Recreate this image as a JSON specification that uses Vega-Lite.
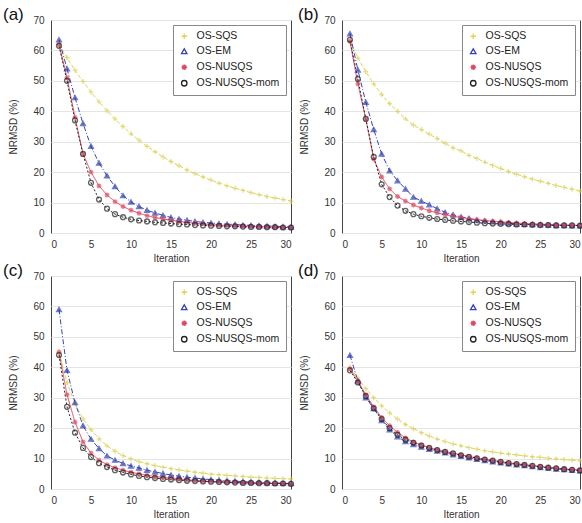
{
  "$schema": "https://vega.github.io/schema/vega-lite/v6.json",
  "background": "white",
  "padding": {"left": 2, "top": 5, "right": 0, "bottom": 0},
  "config": {
    "font": "Liberation Sans",
    "view": {"stroke": "#444", "strokeWidth": 1},
    "axis": {"labelFont": "Liberation Sans", "labelFontSize": 10, "labelColor": "#333", "titleFont": "Liberation Sans", "titleFontSize": 10, "titleFontWeight": "normal", "titleColor": "#333", "ticks": false, "labelPadding": 7, "domain": false, "gridColor": "#e4e4e4", "gridWidth": 1},
    "axisX": {"grid": false, "titlePadding": 4, "labelPadding": 6},
    "axisY": {"grid": true, "titlePadding": 14},
    "legend": {"orient": "top-right", "offset": 5, "title": null, "labelFont": "Liberation Sans", "labelFontSize": 10.5, "labelColor": "#222", "strokeColor": "#888", "fillColor": "white", "padding": 6, "rowPadding": 4, "symbolSize": 30, "symbolStrokeWidth": 1.3, "labelOffset": 7, "symbolFillColor": "transparent"},
    "title": {"font": "Liberation Sans", "fontSize": 17, "fontWeight": "normal", "color": "#111", "anchor": "start", "frame": "group", "orient": "top", "offset": -9},
    "concat": {"spacing": 0}
  },
  "datasets": {
    "a": [
      {"iter":1,"OS-SQS":62,"OS-EM":63.5,"OS-NUSQS":62,"OS-NUSQS-mom":61.5},
      {"iter":2,"OS-SQS":57.6,"OS-EM":54,"OS-NUSQS":51,"OS-NUSQS-mom":50},
      {"iter":3,"OS-SQS":53.5,"OS-EM":44.5,"OS-NUSQS":38,"OS-NUSQS-mom":37},
      {"iter":4,"OS-SQS":49.8,"OS-EM":36,"OS-NUSQS":26,"OS-NUSQS-mom":26},
      {"iter":5,"OS-SQS":46.3,"OS-EM":28.5,"OS-NUSQS":20,"OS-NUSQS-mom":16.5},
      {"iter":6,"OS-SQS":43.1,"OS-EM":23,"OS-NUSQS":15.5,"OS-NUSQS-mom":11},
      {"iter":7,"OS-SQS":40.2,"OS-EM":18.8,"OS-NUSQS":12.5,"OS-NUSQS-mom":8},
      {"iter":8,"OS-SQS":37.5,"OS-EM":15.3,"OS-NUSQS":10.3,"OS-NUSQS-mom":6.2},
      {"iter":9,"OS-SQS":35,"OS-EM":12.3,"OS-NUSQS":8.7,"OS-NUSQS-mom":5.2},
      {"iter":10,"OS-SQS":32.6,"OS-EM":10.2,"OS-NUSQS":7.5,"OS-NUSQS-mom":4.5},
      {"iter":11,"OS-SQS":30.5,"OS-EM":8.7,"OS-NUSQS":6.5,"OS-NUSQS-mom":4.1},
      {"iter":12,"OS-SQS":28.5,"OS-EM":7.5,"OS-NUSQS":5.7,"OS-NUSQS-mom":3.8},
      {"iter":13,"OS-SQS":26.7,"OS-EM":6.6,"OS-NUSQS":5.1,"OS-NUSQS-mom":3.5},
      {"iter":14,"OS-SQS":25,"OS-EM":5.8,"OS-NUSQS":4.6,"OS-NUSQS-mom":3.3},
      {"iter":15,"OS-SQS":23.5,"OS-EM":5.1,"OS-NUSQS":4.2,"OS-NUSQS-mom":3.1},
      {"iter":16,"OS-SQS":22.1,"OS-EM":4.6,"OS-NUSQS":3.8,"OS-NUSQS-mom":2.9},
      {"iter":17,"OS-SQS":20.7,"OS-EM":4.2,"OS-NUSQS":3.5,"OS-NUSQS-mom":2.8},
      {"iter":18,"OS-SQS":19.5,"OS-EM":3.8,"OS-NUSQS":3.2,"OS-NUSQS-mom":2.6},
      {"iter":19,"OS-SQS":18.4,"OS-EM":3.5,"OS-NUSQS":3.0,"OS-NUSQS-mom":2.5},
      {"iter":20,"OS-SQS":17.4,"OS-EM":3.3,"OS-NUSQS":2.8,"OS-NUSQS-mom":2.4},
      {"iter":21,"OS-SQS":16.4,"OS-EM":3.1,"OS-NUSQS":2.6,"OS-NUSQS-mom":2.3},
      {"iter":22,"OS-SQS":15.5,"OS-EM":2.9,"OS-NUSQS":2.5,"OS-NUSQS-mom":2.2},
      {"iter":23,"OS-SQS":14.7,"OS-EM":2.8,"OS-NUSQS":2.4,"OS-NUSQS-mom":2.2},
      {"iter":24,"OS-SQS":14.0,"OS-EM":2.6,"OS-NUSQS":2.3,"OS-NUSQS-mom":2.1},
      {"iter":25,"OS-SQS":13.3,"OS-EM":2.5,"OS-NUSQS":2.2,"OS-NUSQS-mom":2.0},
      {"iter":26,"OS-SQS":12.6,"OS-EM":2.4,"OS-NUSQS":2.1,"OS-NUSQS-mom":2.0},
      {"iter":27,"OS-SQS":12.0,"OS-EM":2.3,"OS-NUSQS":2.0,"OS-NUSQS-mom":1.9},
      {"iter":28,"OS-SQS":11.5,"OS-EM":2.2,"OS-NUSQS":1.9,"OS-NUSQS-mom":1.9},
      {"iter":29,"OS-SQS":11.0,"OS-EM":2.1,"OS-NUSQS":1.8,"OS-NUSQS-mom":1.8},
      {"iter":30,"OS-SQS":10.5,"OS-EM":2.0,"OS-NUSQS":1.8,"OS-NUSQS-mom":1.8}
    ],
    "b": [
      {"iter":1,"OS-SQS":63,"OS-EM":65.5,"OS-NUSQS":63,"OS-NUSQS-mom":63.5},
      {"iter":2,"OS-SQS":57.5,"OS-EM":53.6,"OS-NUSQS":49,"OS-NUSQS-mom":50.6},
      {"iter":3,"OS-SQS":53,"OS-EM":43,"OS-NUSQS":37.5,"OS-NUSQS-mom":37.5},
      {"iter":4,"OS-SQS":49,"OS-EM":34,"OS-NUSQS":24.3,"OS-NUSQS-mom":25},
      {"iter":5,"OS-SQS":45.5,"OS-EM":26,"OS-NUSQS":18.4,"OS-NUSQS-mom":16},
      {"iter":6,"OS-SQS":42.5,"OS-EM":20.5,"OS-NUSQS":14.5,"OS-NUSQS-mom":11.8},
      {"iter":7,"OS-SQS":40,"OS-EM":17.2,"OS-NUSQS":12,"OS-NUSQS-mom":9},
      {"iter":8,"OS-SQS":37.5,"OS-EM":14.5,"OS-NUSQS":10.5,"OS-NUSQS-mom":7.3},
      {"iter":9,"OS-SQS":35.5,"OS-EM":11.8,"OS-NUSQS":9.2,"OS-NUSQS-mom":6.2},
      {"iter":10,"OS-SQS":34,"OS-EM":10.5,"OS-NUSQS":8.2,"OS-NUSQS-mom":5.5},
      {"iter":11,"OS-SQS":32.5,"OS-EM":9.3,"OS-NUSQS":7.3,"OS-NUSQS-mom":5},
      {"iter":12,"OS-SQS":31,"OS-EM":8,"OS-NUSQS":6.6,"OS-NUSQS-mom":4.6},
      {"iter":13,"OS-SQS":29.5,"OS-EM":6.8,"OS-NUSQS":6,"OS-NUSQS-mom":4.3},
      {"iter":14,"OS-SQS":28,"OS-EM":6,"OS-NUSQS":5.5,"OS-NUSQS-mom":4},
      {"iter":15,"OS-SQS":27,"OS-EM":5.3,"OS-NUSQS":5.1,"OS-NUSQS-mom":3.8},
      {"iter":16,"OS-SQS":25.5,"OS-EM":4.8,"OS-NUSQS":4.7,"OS-NUSQS-mom":3.6},
      {"iter":17,"OS-SQS":24.5,"OS-EM":4.3,"OS-NUSQS":4.4,"OS-NUSQS-mom":3.4},
      {"iter":18,"OS-SQS":23.3,"OS-EM":4,"OS-NUSQS":4.1,"OS-NUSQS-mom":3.2},
      {"iter":19,"OS-SQS":22.2,"OS-EM":3.7,"OS-NUSQS":3.9,"OS-NUSQS-mom":3.1},
      {"iter":20,"OS-SQS":21.2,"OS-EM":3.4,"OS-NUSQS":3.7,"OS-NUSQS-mom":3},
      {"iter":21,"OS-SQS":20.2,"OS-EM":3.2,"OS-NUSQS":3.5,"OS-NUSQS-mom":2.9},
      {"iter":22,"OS-SQS":19.3,"OS-EM":3,"OS-NUSQS":3.3,"OS-NUSQS-mom":2.8},
      {"iter":23,"OS-SQS":18.5,"OS-EM":2.9,"OS-NUSQS":3.1,"OS-NUSQS-mom":2.8},
      {"iter":24,"OS-SQS":17.7,"OS-EM":2.8,"OS-NUSQS":3,"OS-NUSQS-mom":2.7},
      {"iter":25,"OS-SQS":17,"OS-EM":2.7,"OS-NUSQS":2.9,"OS-NUSQS-mom":2.6},
      {"iter":26,"OS-SQS":16.3,"OS-EM":2.6,"OS-NUSQS":2.8,"OS-NUSQS-mom":2.6},
      {"iter":27,"OS-SQS":15.6,"OS-EM":2.5,"OS-NUSQS":2.7,"OS-NUSQS-mom":2.5},
      {"iter":28,"OS-SQS":15,"OS-EM":2.5,"OS-NUSQS":2.6,"OS-NUSQS-mom":2.5},
      {"iter":29,"OS-SQS":14.4,"OS-EM":2.4,"OS-NUSQS":2.6,"OS-NUSQS-mom":2.5},
      {"iter":30,"OS-SQS":13.8,"OS-EM":2.4,"OS-NUSQS":2.5,"OS-NUSQS-mom":2.4}
    ],
    "c": [
      {"iter":1,"OS-SQS":45,"OS-EM":59,"OS-NUSQS":45,"OS-NUSQS-mom":44},
      {"iter":2,"OS-SQS":35,"OS-EM":39,"OS-NUSQS":31,"OS-NUSQS-mom":27},
      {"iter":3,"OS-SQS":28,"OS-EM":28.4,"OS-NUSQS":22,"OS-NUSQS-mom":18.5},
      {"iter":4,"OS-SQS":23,"OS-EM":20.8,"OS-NUSQS":15.5,"OS-NUSQS-mom":13.5},
      {"iter":5,"OS-SQS":19.5,"OS-EM":16.4,"OS-NUSQS":11.8,"OS-NUSQS-mom":10.5},
      {"iter":6,"OS-SQS":16.5,"OS-EM":13.3,"OS-NUSQS":9.5,"OS-NUSQS-mom":8.5},
      {"iter":7,"OS-SQS":14.2,"OS-EM":10.9,"OS-NUSQS":8,"OS-NUSQS-mom":7.2},
      {"iter":8,"OS-SQS":12.4,"OS-EM":9.5,"OS-NUSQS":7,"OS-NUSQS-mom":6.2},
      {"iter":9,"OS-SQS":11,"OS-EM":8.4,"OS-NUSQS":6.2,"OS-NUSQS-mom":5.4},
      {"iter":10,"OS-SQS":9.9,"OS-EM":7.6,"OS-NUSQS":5.5,"OS-NUSQS-mom":4.8},
      {"iter":11,"OS-SQS":9,"OS-EM":6.9,"OS-NUSQS":5,"OS-NUSQS-mom":4.3},
      {"iter":12,"OS-SQS":8.3,"OS-EM":6.2,"OS-NUSQS":4.5,"OS-NUSQS-mom":3.9},
      {"iter":13,"OS-SQS":7.7,"OS-EM":5.6,"OS-NUSQS":4.1,"OS-NUSQS-mom":3.6},
      {"iter":14,"OS-SQS":7.2,"OS-EM":5.1,"OS-NUSQS":3.8,"OS-NUSQS-mom":3.3},
      {"iter":15,"OS-SQS":6.7,"OS-EM":4.6,"OS-NUSQS":3.5,"OS-NUSQS-mom":3.1},
      {"iter":16,"OS-SQS":6.3,"OS-EM":4.2,"OS-NUSQS":3.2,"OS-NUSQS-mom":2.9},
      {"iter":17,"OS-SQS":5.9,"OS-EM":3.9,"OS-NUSQS":3.0,"OS-NUSQS-mom":2.7},
      {"iter":18,"OS-SQS":5.5,"OS-EM":3.6,"OS-NUSQS":2.8,"OS-NUSQS-mom":2.6},
      {"iter":19,"OS-SQS":5.2,"OS-EM":3.3,"OS-NUSQS":2.6,"OS-NUSQS-mom":2.5},
      {"iter":20,"OS-SQS":4.9,"OS-EM":3.1,"OS-NUSQS":2.5,"OS-NUSQS-mom":2.4},
      {"iter":21,"OS-SQS":4.7,"OS-EM":2.9,"OS-NUSQS":2.4,"OS-NUSQS-mom":2.3},
      {"iter":22,"OS-SQS":4.5,"OS-EM":2.7,"OS-NUSQS":2.3,"OS-NUSQS-mom":2.2},
      {"iter":23,"OS-SQS":4.3,"OS-EM":2.6,"OS-NUSQS":2.2,"OS-NUSQS-mom":2.1},
      {"iter":24,"OS-SQS":4.1,"OS-EM":2.4,"OS-NUSQS":2.1,"OS-NUSQS-mom":2.0},
      {"iter":25,"OS-SQS":3.9,"OS-EM":2.3,"OS-NUSQS":2.0,"OS-NUSQS-mom":2.0},
      {"iter":26,"OS-SQS":3.8,"OS-EM":2.2,"OS-NUSQS":1.9,"OS-NUSQS-mom":1.9},
      {"iter":27,"OS-SQS":3.6,"OS-EM":2.1,"OS-NUSQS":1.9,"OS-NUSQS-mom":1.9},
      {"iter":28,"OS-SQS":3.5,"OS-EM":2.0,"OS-NUSQS":1.8,"OS-NUSQS-mom":1.8},
      {"iter":29,"OS-SQS":3.4,"OS-EM":1.9,"OS-NUSQS":1.8,"OS-NUSQS-mom":1.8},
      {"iter":30,"OS-SQS":3.3,"OS-EM":1.8,"OS-NUSQS":1.7,"OS-NUSQS-mom":1.7}
    ],
    "d": [
      {"iter":1,"OS-SQS":40,"OS-EM":44,"OS-NUSQS":39.5,"OS-NUSQS-mom":39},
      {"iter":2,"OS-SQS":36.5,"OS-EM":35.5,"OS-NUSQS":35.5,"OS-NUSQS-mom":35},
      {"iter":3,"OS-SQS":33,"OS-EM":30,"OS-NUSQS":31,"OS-NUSQS-mom":30.5},
      {"iter":4,"OS-SQS":30,"OS-EM":26.5,"OS-NUSQS":27,"OS-NUSQS-mom":26.5},
      {"iter":5,"OS-SQS":27.3,"OS-EM":22.5,"OS-NUSQS":23.5,"OS-NUSQS-mom":23},
      {"iter":6,"OS-SQS":25,"OS-EM":19.5,"OS-NUSQS":20.8,"OS-NUSQS-mom":20},
      {"iter":7,"OS-SQS":23,"OS-EM":17.2,"OS-NUSQS":18.6,"OS-NUSQS-mom":17.8},
      {"iter":8,"OS-SQS":21.2,"OS-EM":15.6,"OS-NUSQS":16.8,"OS-NUSQS-mom":16.2},
      {"iter":9,"OS-SQS":19.8,"OS-EM":14.6,"OS-NUSQS":15.5,"OS-NUSQS-mom":15.2},
      {"iter":10,"OS-SQS":18.5,"OS-EM":13.8,"OS-NUSQS":14.5,"OS-NUSQS-mom":14.3},
      {"iter":11,"OS-SQS":17.4,"OS-EM":13.1,"OS-NUSQS":13.6,"OS-NUSQS-mom":13.5},
      {"iter":12,"OS-SQS":16.4,"OS-EM":12.5,"OS-NUSQS":12.9,"OS-NUSQS-mom":12.8},
      {"iter":13,"OS-SQS":15.6,"OS-EM":11.9,"OS-NUSQS":12.3,"OS-NUSQS-mom":12.2},
      {"iter":14,"OS-SQS":14.8,"OS-EM":11.3,"OS-NUSQS":11.8,"OS-NUSQS-mom":11.7},
      {"iter":15,"OS-SQS":14.2,"OS-EM":10.8,"OS-NUSQS":11.2,"OS-NUSQS-mom":11.1},
      {"iter":16,"OS-SQS":13.6,"OS-EM":10.3,"OS-NUSQS":10.7,"OS-NUSQS-mom":10.6},
      {"iter":17,"OS-SQS":13.1,"OS-EM":9.8,"OS-NUSQS":10.2,"OS-NUSQS-mom":10.1},
      {"iter":18,"OS-SQS":12.6,"OS-EM":9.4,"OS-NUSQS":9.8,"OS-NUSQS-mom":9.7},
      {"iter":19,"OS-SQS":12.2,"OS-EM":9.0,"OS-NUSQS":9.4,"OS-NUSQS-mom":9.3},
      {"iter":20,"OS-SQS":11.8,"OS-EM":8.6,"OS-NUSQS":9.0,"OS-NUSQS-mom":8.9},
      {"iter":21,"OS-SQS":11.5,"OS-EM":8.3,"OS-NUSQS":8.6,"OS-NUSQS-mom":8.5},
      {"iter":22,"OS-SQS":11.2,"OS-EM":8.0,"OS-NUSQS":8.3,"OS-NUSQS-mom":8.2},
      {"iter":23,"OS-SQS":10.9,"OS-EM":7.7,"OS-NUSQS":8.0,"OS-NUSQS-mom":7.9},
      {"iter":24,"OS-SQS":10.6,"OS-EM":7.4,"OS-NUSQS":7.7,"OS-NUSQS-mom":7.6},
      {"iter":25,"OS-SQS":10.4,"OS-EM":7.1,"OS-NUSQS":7.4,"OS-NUSQS-mom":7.3},
      {"iter":26,"OS-SQS":10.1,"OS-EM":6.9,"OS-NUSQS":7.1,"OS-NUSQS-mom":7.0},
      {"iter":27,"OS-SQS":9.9,"OS-EM":6.6,"OS-NUSQS":6.9,"OS-NUSQS-mom":6.8},
      {"iter":28,"OS-SQS":9.7,"OS-EM":6.4,"OS-NUSQS":6.6,"OS-NUSQS-mom":6.5},
      {"iter":29,"OS-SQS":9.5,"OS-EM":6.2,"OS-NUSQS":6.4,"OS-NUSQS-mom":6.3},
      {"iter":30,"OS-SQS":9.3,"OS-EM":6.0,"OS-NUSQS":6.2,"OS-NUSQS-mom":6.1}
    ]
  },
  "spacing": -3,
  "vconcat": [
    {
      "resolve": {"scale": {"color": "independent", "shape": "independent", "strokeDash": "independent", "fill": "independent"}},
      "hconcat": [
        {
          "width": 240, "height": 213,
          "title": {"text": "(a)", "dx": -48},
          "data": {"name": "a"},
          "transform": [{"fold": ["OS-SQS", "OS-EM", "OS-NUSQS", "OS-NUSQS-mom"], "as": ["series", "v"]}],
          "encoding": {
            "x": {"field": "iter", "type": "quantitative", "scale": {"domain": [0, 30], "nice": false}, "axis": {"values": [0, 5, 10, 15, 20, 25, 30], "title": "Iteration"}},
            "y": {"field": "v", "type": "quantitative", "scale": {"domain": [0, 70], "nice": false}, "axis": {"values": [0, 10, 20, 30, 40, 50, 60, 70], "title": "NRMSD (%)"}},
            "color": {"field": "series", "type": "nominal", "legend": {"encode": {"symbols": {"update": {"fill": {"value": "transparent"}, "fillOpacity": {"value": 0}, "strokeOpacity": {"value": 1}}}}}, "scale": {"domain": ["OS-SQS", "OS-EM", "OS-NUSQS", "OS-NUSQS-mom"], "range": ["#dcd45a", "#3344b8", "#e04860", "#222222"]}}
          },
          "layer": [
            {"mark": {"type": "line", "strokeWidth": 1}, "encoding": {
              "strokeDash": {"field": "series", "type": "nominal", "legend": null, "scale": {"domain": ["OS-NUSQS-mom", "OS-SQS", "OS-EM", "OS-NUSQS"], "range": [[2, 2], [4, 2], [5, 2, 1, 2], [1, 0]]}}}},
            {"mark": {"type": "point", "filled": false, "size": 24, "strokeWidth": 1.3}, "encoding": {
              "fill": {"field": "series", "type": "nominal", "legend": null, "scale": {"domain": ["OS-EM", "OS-SQS", "OS-NUSQS", "OS-NUSQS-mom"], "range": ["#26338f", "transparent", "transparent", "transparent"]}},
              "shape": {"field": "series", "type": "nominal", "scale": {"domain": ["OS-SQS", "OS-EM", "OS-NUSQS", "OS-NUSQS-mom"], "range": ["M-1,0H1M0,-1V1", "triangle-up", "M-1,0H1M0,-1V1M-0.7,-0.7L0.7,0.7M-0.7,0.7L0.7,-0.7", "circle"]}}}}
          ]
        },
        {
          "width": 238, "height": 213,
          "title": {"text": "(b)", "dx": -44},
          "data": {"name": "b"},
          "transform": [{"fold": ["OS-SQS", "OS-EM", "OS-NUSQS", "OS-NUSQS-mom"], "as": ["series", "v"]}],
          "encoding": {
            "x": {"field": "iter", "type": "quantitative", "scale": {"domain": [0, 30], "nice": false}, "axis": {"values": [0, 5, 10, 15, 20, 25, 30], "title": "Iteration"}},
            "y": {"field": "v", "type": "quantitative", "scale": {"domain": [0, 70], "nice": false}, "axis": {"values": [0, 10, 20, 30, 40, 50, 60, 70], "title": "NRMSD (%)"}},
            "color": {"field": "series", "type": "nominal", "legend": {"encode": {"symbols": {"update": {"fill": {"value": "transparent"}, "fillOpacity": {"value": 0}, "strokeOpacity": {"value": 1}}}}}, "scale": {"domain": ["OS-SQS", "OS-EM", "OS-NUSQS", "OS-NUSQS-mom"], "range": ["#dcd45a", "#3344b8", "#e04860", "#222222"]}}
          },
          "layer": [
            {"mark": {"type": "line", "strokeWidth": 1}, "encoding": {
              "strokeDash": {"field": "series", "type": "nominal", "legend": null, "scale": {"domain": ["OS-NUSQS-mom", "OS-SQS", "OS-EM", "OS-NUSQS"], "range": [[2, 2], [4, 2], [5, 2, 1, 2], [1, 0]]}}}},
            {"mark": {"type": "point", "filled": false, "size": 24, "strokeWidth": 1.3}, "encoding": {
              "fill": {"field": "series", "type": "nominal", "legend": null, "scale": {"domain": ["OS-EM", "OS-SQS", "OS-NUSQS", "OS-NUSQS-mom"], "range": ["#26338f", "transparent", "transparent", "transparent"]}},
              "shape": {"field": "series", "type": "nominal", "scale": {"domain": ["OS-SQS", "OS-EM", "OS-NUSQS", "OS-NUSQS-mom"], "range": ["M-1,0H1M0,-1V1", "triangle-up", "M-1,0H1M0,-1V1M-0.7,-0.7L0.7,0.7M-0.7,0.7L0.7,-0.7", "circle"]}}}}
          ]
        }
      ]
    },
    {
      "resolve": {"scale": {"color": "independent", "shape": "independent", "strokeDash": "independent", "fill": "independent"}},
      "hconcat": [
        {
          "width": 240, "height": 213,
          "title": {"text": "(c)", "dx": -48},
          "data": {"name": "c"},
          "transform": [{"fold": ["OS-SQS", "OS-EM", "OS-NUSQS", "OS-NUSQS-mom"], "as": ["series", "v"]}],
          "encoding": {
            "x": {"field": "iter", "type": "quantitative", "scale": {"domain": [0, 30], "nice": false}, "axis": {"values": [0, 5, 10, 15, 20, 25, 30], "title": "Iteration"}},
            "y": {"field": "v", "type": "quantitative", "scale": {"domain": [0, 70], "nice": false}, "axis": {"values": [0, 10, 20, 30, 40, 50, 60, 70], "title": "NRMSD (%)"}},
            "color": {"field": "series", "type": "nominal", "legend": {"encode": {"symbols": {"update": {"fill": {"value": "transparent"}, "fillOpacity": {"value": 0}, "strokeOpacity": {"value": 1}}}}}, "scale": {"domain": ["OS-SQS", "OS-EM", "OS-NUSQS", "OS-NUSQS-mom"], "range": ["#dcd45a", "#3344b8", "#e04860", "#222222"]}}
          },
          "layer": [
            {"mark": {"type": "line", "strokeWidth": 1}, "encoding": {
              "strokeDash": {"field": "series", "type": "nominal", "legend": null, "scale": {"domain": ["OS-NUSQS-mom", "OS-SQS", "OS-EM", "OS-NUSQS"], "range": [[2, 2], [4, 2], [5, 2, 1, 2], [1, 0]]}}}},
            {"mark": {"type": "point", "filled": false, "size": 24, "strokeWidth": 1.3}, "encoding": {
              "fill": {"field": "series", "type": "nominal", "legend": null, "scale": {"domain": ["OS-EM", "OS-SQS", "OS-NUSQS", "OS-NUSQS-mom"], "range": ["#26338f", "transparent", "transparent", "transparent"]}},
              "shape": {"field": "series", "type": "nominal", "scale": {"domain": ["OS-SQS", "OS-EM", "OS-NUSQS", "OS-NUSQS-mom"], "range": ["M-1,0H1M0,-1V1", "triangle-up", "M-1,0H1M0,-1V1M-0.7,-0.7L0.7,0.7M-0.7,0.7L0.7,-0.7", "circle"]}}}}
          ]
        },
        {
          "width": 238, "height": 213,
          "title": {"text": "(d)", "dx": -44},
          "data": {"name": "d"},
          "transform": [{"fold": ["OS-SQS", "OS-EM", "OS-NUSQS", "OS-NUSQS-mom"], "as": ["series", "v"]}],
          "encoding": {
            "x": {"field": "iter", "type": "quantitative", "scale": {"domain": [0, 30], "nice": false}, "axis": {"values": [0, 5, 10, 15, 20, 25, 30], "title": "Iteration"}},
            "y": {"field": "v", "type": "quantitative", "scale": {"domain": [0, 70], "nice": false}, "axis": {"values": [0, 10, 20, 30, 40, 50, 60, 70], "title": "NRMSD (%)"}},
            "color": {"field": "series", "type": "nominal", "legend": {"encode": {"symbols": {"update": {"fill": {"value": "transparent"}, "fillOpacity": {"value": 0}, "strokeOpacity": {"value": 1}}}}}, "scale": {"domain": ["OS-SQS", "OS-EM", "OS-NUSQS", "OS-NUSQS-mom"], "range": ["#dcd45a", "#3344b8", "#e04860", "#222222"]}}
          },
          "layer": [
            {"mark": {"type": "line", "strokeWidth": 1}, "encoding": {
              "strokeDash": {"field": "series", "type": "nominal", "legend": null, "scale": {"domain": ["OS-NUSQS-mom", "OS-SQS", "OS-EM", "OS-NUSQS"], "range": [[2, 2], [4, 2], [5, 2, 1, 2], [1, 0]]}}}},
            {"mark": {"type": "point", "filled": false, "size": 24, "strokeWidth": 1.3}, "encoding": {
              "fill": {"field": "series", "type": "nominal", "legend": null, "scale": {"domain": ["OS-EM", "OS-SQS", "OS-NUSQS", "OS-NUSQS-mom"], "range": ["#26338f", "transparent", "transparent", "transparent"]}},
              "shape": {"field": "series", "type": "nominal", "scale": {"domain": ["OS-SQS", "OS-EM", "OS-NUSQS", "OS-NUSQS-mom"], "range": ["M-1,0H1M0,-1V1", "triangle-up", "M-1,0H1M0,-1V1M-0.7,-0.7L0.7,0.7M-0.7,0.7L0.7,-0.7", "circle"]}}}}
          ]
        }
      ]
    }
  ]
}
